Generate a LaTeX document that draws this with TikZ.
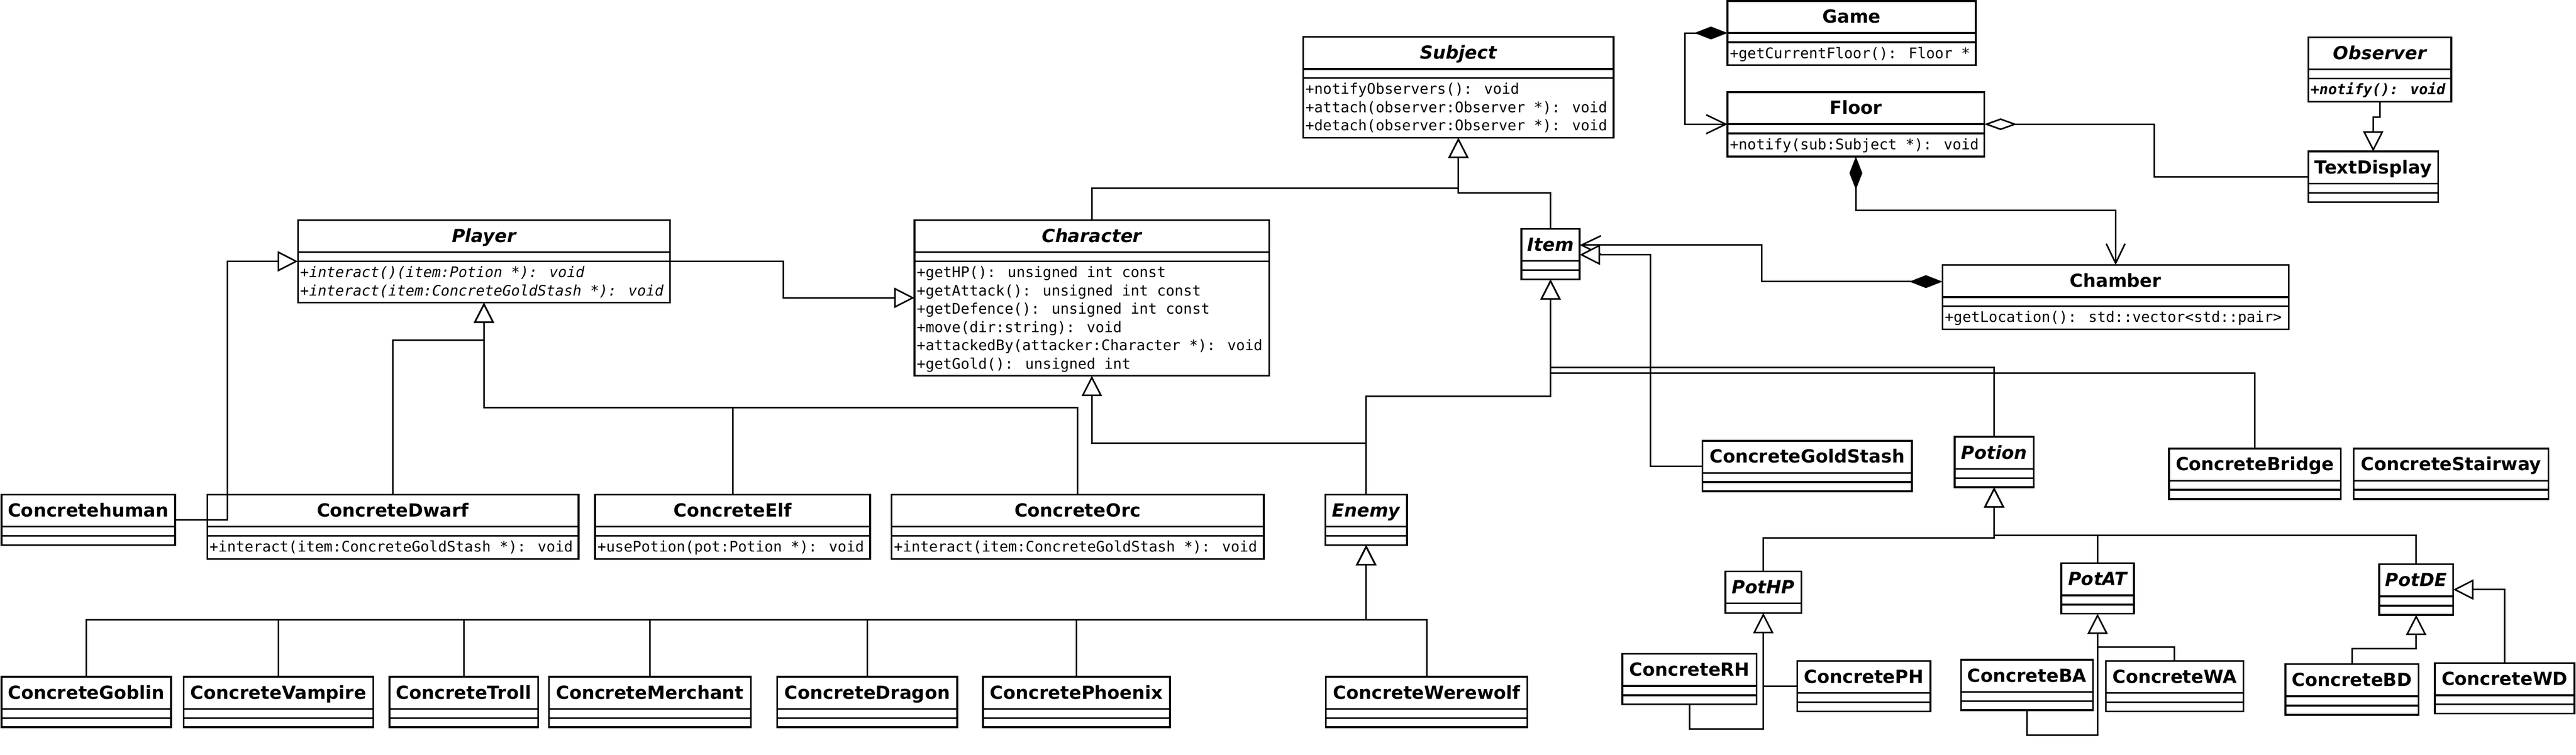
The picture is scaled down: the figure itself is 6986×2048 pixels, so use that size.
\documentclass[tikz,border=0pt]{standalone}
\usepackage{fontspec}
\newfontfamily\dvs{DejaVu Sans}
\newfontfamily\dvm{DejaVu Sans Mono}
\usetikzlibrary{arrows.meta,calc}

\tikzset{
  umlbox/.style={draw, line width=4.8pt, rectangle, inner sep=0pt, outer sep=0pt},
  sepline/.style={line width=4.8pt},
  ttl/.style={font={\dvs\bfseries\fontsize{49}{59}\selectfont}, inner sep=0pt},
  attl/.style={font={\dvs\bfseries\itshape\fontsize{49}{59}\selectfont}, inner sep=0pt},
  mth/.style={font={\dvm\fontsize{39.6}{49.6}\selectfont}, inner sep=0pt},
  imth/.style={font={\dvm\itshape\fontsize{39.6}{49.6}\selectfont}, inner sep=0pt},
  bimth/.style={font={\dvm\bfseries\itshape\fontsize{39.6}{49.6}\selectfont}, inner sep=0pt},
  conn/.style={line width=4.2pt},
  inh/.style={conn, -{Triangle[length=55pt,width=55pt,fill=white]}},
  comp/.style={conn, {Diamond[length=90pt,width=35pt]}-{Straight Barb[length=53pt,width=51pt]}},
  agg/.style={conn, {Diamond[length=89pt,width=32pt,fill=white]}-},
}

% name, left, top, right, n methods (-1 = one section only), title style, title, method style, methods
\newcommand{\cls}[9]{%
  \ifnum#5<0 \def\clsh{113}\else\ifnum#5=0 \def\clsh{137}\else\pgfmathsetmacro\clsh{125+49.6*#5}\fi\fi
  \node[umlbox, minimum width={(#4-#2)*1pt}, minimum height={\clsh*1pt}, anchor=north west] (#1) at (#2,#3) {};
  \draw[sepline] ([yshift=-87pt]#1.north west) -- ([yshift=-87pt]#1.north east);
  \ifnum#5>-1 \draw[sepline] ([yshift=-112pt]#1.north west) -- ([yshift=-112pt]#1.north east);\fi
  \node[#6, anchor=base] (#1t) at ([yshift=-60pt]#1.north) {#7};
  \ifnum#5>0
    \foreach \m [count=\i] in {#9} {
      \node[#8, anchor=base west] (#1m\i) at ([xshift=6pt,yshift={-155.5pt-49.6pt*(\i-1)}]#1.north west) {\m};
    }
  \fi
}

\begin{document}
\begin{tikzpicture}[x=1pt,y=-1pt]
\useasboundingbox (0,0) rectangle (6986,2048);

% ---- top area
\cls{game}{4685}{2.5}{5358}{1}{ttl}{Game}{mth}{+getCurrentFloor(): Floor *}
\cls{floor}{4685}{250}{5381}{1}{ttl}{Floor}{mth}{+notify(sub:Subject *): void}
\cls{subject}{3534}{100}{4376}{3}{attl}{Subject}{mth}{+notifyObservers(): void,+attach(observer:Observer *): void,+detach(observer:Observer *): void}
\cls{observer}{6260}{101}{6648}{1}{attl}{Observer}{bimth}{+notify(): void}
\cls{textdisplay}{6260}{411}{6612}{0}{ttl}{TextDisplay}{mth}{}
\cls{player}{808}{597}{1817}{2}{attl}{Player}{imth}{+interact()(item:Potion *): void,+interact(item:ConcreteGoldStash *): void}
\cls{character}{2480}{597}{3442}{6}{attl}{Character}{mth}{+getHP(): unsigned int const,+getAttack(): unsigned int const,+getDefence(): unsigned int const,+move(dir:string): void,+attackedBy(attacker:Character *): void,+getGold(): unsigned int}
\cls{item}{4126}{621}{4284}{0}{attl}{Item}{mth}{}
\cls{chamber}{5268}{719}{6207}{1}{ttl}{Chamber}{mth}{+getLocation(): std::vector<std::pair>}

% ---- middle row
\cls{concretehuman}{4}{1342}{475}{0}{ttl}{Concretehuman}{mth}{}
\cls{dwarf}{562}{1342}{1569}{1}{ttl}{ConcreteDwarf}{mth}{+interact(item:ConcreteGoldStash *): void}
\cls{elf}{1614}{1342}{2360}{1}{ttl}{ConcreteElf}{mth}{+usePotion(pot:Potion *): void}
\cls{orc}{2418}{1342}{3427}{1}{ttl}{ConcreteOrc}{mth}{+interact(item:ConcreteGoldStash *): void}
\cls{enemy}{3594}{1342}{3816}{0}{attl}{Enemy}{mth}{}
\cls{goldstash}{4617}{1196}{5185}{0}{ttl}{ConcreteGoldStash}{mth}{}
\cls{potion}{5301}{1185}{5515}{0}{attl}{Potion}{mth}{}
\cls{bridge}{5882}{1217}{6348}{0}{ttl}{ConcreteBridge}{mth}{}
\cls{stairway}{6383}{1217}{6911}{0}{ttl}{ConcreteStairway}{mth}{}

% ---- potions
\cls{pothp}{4679}{1550}{4885}{-1}{attl}{PotHP}{mth}{}
\cls{potat}{5590}{1528}{5787}{0}{attl}{PotAT}{mth}{}
\cls{potde}{6452}{1531}{6653}{0}{attl}{PotDE}{mth}{}
\cls{rh}{4400}{1774}{4764}{0}{ttl}{ConcreteRH}{mth}{}
\cls{ph}{4874}{1793}{5235}{0}{ttl}{ConcretePH}{mth}{}
\cls{ba}{5318}{1790}{5676}{0}{ttl}{ConcreteBA}{mth}{}
\cls{wa}{5711}{1793}{6084}{0}{ttl}{ConcreteWA}{mth}{}
\cls{bd}{6198}{1802}{6559}{0}{ttl}{ConcreteBD}{mth}{}
\cls{wd}{6603}{1799}{6982}{0}{ttl}{ConcreteWD}{mth}{}

% ---- enemies
\cls{goblin}{4}{1836}{464}{0}{ttl}{ConcreteGoblin}{mth}{}
\cls{vampire}{498}{1836}{1012}{0}{ttl}{ConcreteVampire}{mth}{}
\cls{troll}{1056}{1836}{1459}{0}{ttl}{ConcreteTroll}{mth}{}
\cls{merchant}{1489}{1836}{2036}{0}{ttl}{ConcreteMerchant}{mth}{}
\cls{dragon}{2108}{1836}{2596}{0}{ttl}{ConcreteDragon}{mth}{}
\cls{phoenix}{2666}{1836}{3173}{0}{ttl}{ConcretePhoenix}{mth}{}
\cls{werewolf}{3596}{1836}{4142}{0}{ttl}{ConcreteWerewolf}{mth}{}

% ================= connectors
\draw[comp] (game.west |- 0,89.5) -- ++(-116,0) |- (floor.west |- 0,337);
\draw[agg] (floor.east |- 0,337) -| (5843,480) -- (textdisplay.west |- 0,480);
\draw[inh] (observer.south) -- ++(0,42) -| (textdisplay.north);
\draw[comp] (floor.south) -- ++(0,146) -| (chamber.north);
\draw[comp] (chamber.west |- 0,764) -| (4778,665) -- (item.east |- 0,665);
\draw[inh] (goldstash.west) -| (4476,691) -- (item.east |- 0,691);

\draw[inh] (character.north) -- ++(0,-86) -| (subject.south);
\draw[inh] (item.north) -- ++(0,-98) -| (subject.south);

\draw[inh] (player.east |- 0,709) -| (2125,808) -- (character.west |- 0,808);
\draw[inh] (concretehuman.east) -| (617,709) -- (player.west |- 0,709);
\draw[inh] (dwarf.north) -- (dwarf.north |- 0,923) -| (player.south);
\draw[inh] (elf.north) -- (elf.north |- 0,1106) -| (player.south);
\draw[inh] (orc.north) -- (orc.north |- 0,1106) -| (player.south);

\draw[inh] (enemy.north) -- (enemy.north |- 0,1202) -| (character.south);
\draw[inh] (enemy.north) -- (enemy.north |- 0,1075) -| (item.south);
\draw[inh] (potion.north) -- (potion.north |- 0,997) -| (item.south);
\draw[inh] (bridge.north) -- (bridge.north |- 0,1012) -| (item.south);

\foreach \e in {goblin,vampire,troll,merchant,dragon,phoenix,werewolf}
  \draw[inh] (\e.north) -- (\e.north |- 0,1681) -| (enemy.south);

\draw[inh] (pothp.north) -- (pothp.north |- 0,1460) -| (potion.south);
\draw[inh] (potat.north) -- (potat.north |- 0,1453) -| (potion.south);
\draw[inh] (potde.north) -- (potde.north |- 0,1453) -| (potion.south);

\draw[inh] (rh.south) -- (rh.south |- 0,1978) -| (pothp.south);
\draw[conn] (ph.west) -- (pothp.south |- ph.west);
\draw[inh] (ba.south) -- (ba.south |- 0,1994) -| (potat.south);
\draw[conn] (wa.north) |- (potat.south |- 0,1755);
\draw[inh] (bd.north) -- (bd.north |- 0,1760) -| (potde.south);
\draw[inh] (wd.north) |- (potde.east);
\end{tikzpicture}
\end{document}
